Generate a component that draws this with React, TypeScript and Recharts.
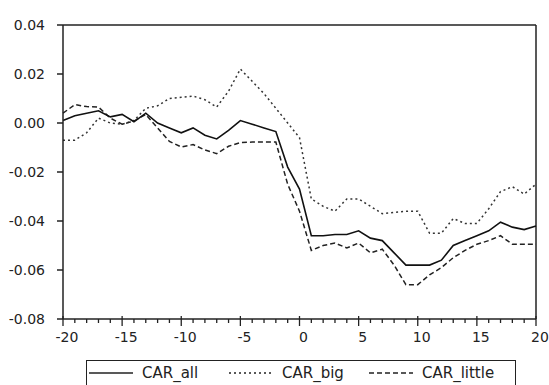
import { LineChart, Line, XAxis, YAxis, ReferenceLine } from 'recharts';

const DAYS = [
  -20, -19, -18, -17, -16, -15, -14, -13, -12, -11, -10, -9, -8, -7, -6, -5, -4, -3, -2, -1,
  0, 1, 2, 3, 4, 5, 6, 7, 8, 9, 10, 11, 12, 13, 14, 15, 16, 17, 18, 19, 20,
];

const CAR_ALL = [
  0.001, 0.003, 0.004, 0.005, 0.0025, 0.0035, 0.0005, 0.004, 0.0, -0.002, -0.004, -0.002, -0.005,
  -0.0065, -0.003, 0.001, -0.0005, -0.002, -0.0035, -0.018, -0.027,
  -0.046, -0.046, -0.0455, -0.0455, -0.044, -0.047, -0.048, -0.053, -0.058, -0.058, -0.058, -0.056,
  -0.05, -0.048, -0.046, -0.044, -0.0405, -0.0425, -0.0435, -0.042,
];

const CAR_BIG = [
  -0.007, -0.007, -0.004, 0.002, 0.0, -0.0005, 0.001, 0.006, 0.007, 0.01, 0.0105, 0.011, 0.0095,
  0.0065, 0.013, 0.022, 0.017, 0.012, 0.006, 0.0, -0.006,
  -0.031, -0.034, -0.036, -0.031, -0.031, -0.034, -0.037, -0.0365, -0.036, -0.036, -0.045, -0.045,
  -0.039, -0.041, -0.041, -0.035, -0.028, -0.026, -0.029, -0.025,
];

const CAR_LITTLE = [
  0.004, 0.0075, 0.0067, 0.0065, 0.002, -0.0005, 0.0008, 0.0035, -0.002, -0.0075, -0.0098, -0.0088,
  -0.011, -0.0125, -0.0095, -0.008, -0.0078, -0.0078, -0.0078, -0.025, -0.036,
  -0.052, -0.05, -0.049, -0.051, -0.049, -0.053, -0.0515, -0.058, -0.066, -0.066, -0.062, -0.059,
  -0.055, -0.052, -0.0495, -0.048, -0.046, -0.0495, -0.0495, -0.0495,
];

const Y_TICKS = [0.04, 0.02, 0.0, -0.02, -0.04, -0.06, -0.08];
const X_LABELS = [-20, -15, -10, -5, 0, 5, 10, 15, 20];

const FONT = '"DejaVu Sans", sans-serif';
const INK = '#222';

const data = DAYS.map((day, i) => ({
  day,
  CAR_all: CAR_ALL[i],
  CAR_big: CAR_BIG[i],
  CAR_little: CAR_LITTLE[i],
}));

// x axis: short tick every day, longer ticks + labels every 5 days
function DayTick(props: any) {
  const { x, y, payload } = props;
  const v = payload.value as number;
  const major = X_LABELS.includes(v);
  return (
    <g>
      <line x1={x} x2={x} y1={major ? y - 3 : y} y2={major ? y + 7 : y + 4} stroke={INK} strokeWidth={1.3} />
      {major && (
        <text x={x + 4} y={y + 23} textAnchor="middle" fontSize={14} fontFamily={FONT} fill={INK}>
          {v}
        </text>
      )}
    </g>
  );
}

function LegendSample({ dash }: { dash?: string }) {
  return (
    <svg width={44} height={10} style={{ display: 'block' }}>
      <line x1={0} x2={44} y1={5} y2={5} stroke={INK} strokeWidth={1.5} strokeDasharray={dash} />
    </svg>
  );
}

const legendItems = [
  { name: 'CAR_all', dash: undefined, left: 2 },
  { name: 'CAR_big', dash: '2 3', left: 142 },
  { name: 'CAR_little', dash: '5 3', left: 282 },
];

export default function App() {
  return (
    <div style={{ position: 'absolute', left: 0, top: 0, width: 549, height: 385, background: '#fff' }}>
      <LineChart width={549} height={385} data={data} margin={{ top: 25, right: 13, left: 0, bottom: 36 }}>
        <XAxis
          dataKey="day"
          type="number"
          domain={[-20, 20]}
          ticks={DAYS}
          interval={0}
          tickSize={0}
          tickMargin={0}
          height={30}
          tick={<DayTick />}
          stroke={INK}
          strokeWidth={1.5}
        />
        <YAxis
          type="number"
          domain={[-0.08, 0.04]}
          ticks={Y_TICKS}
          interval={0}
          width={63}
          tickSize={6}
          tickMargin={12}
          tickFormatter={(v: number) => v.toFixed(2)}
          tick={{ fontSize: 14, fontFamily: FONT, fill: INK }}
          stroke={INK}
          strokeWidth={1.5}
        />
        <ReferenceLine y={0.04} stroke={INK} strokeWidth={1.5} />
        <ReferenceLine x={20} stroke={INK} strokeWidth={1.5} />
        <Line type="linear" dataKey="CAR_big" stroke="#333" strokeWidth={1.5} strokeDasharray="2 3" dot={false} isAnimationActive={false} />
        <Line type="linear" dataKey="CAR_little" stroke={INK} strokeWidth={1.5} strokeDasharray="5 3" dot={false} isAnimationActive={false} />
        <Line type="linear" dataKey="CAR_all" stroke="#111" strokeWidth={1.6} dot={false} isAnimationActive={false} />
      </LineChart>
      <div
        style={{
          position: 'absolute',
          left: 86,
          top: 360,
          width: 430,
          height: 27,
          border: `1.5px solid ${INK}`,
          boxSizing: 'border-box',
          fontFamily: FONT,
          fontSize: 15,
          color: INK,
        }}
      >
        {legendItems.map((it) => (
          <div
            key={it.name}
            style={{ position: 'absolute', left: it.left, top: 3, display: 'flex', alignItems: 'center', gap: 9 }}
          >
            <LegendSample dash={it.dash} />
            <span style={{ lineHeight: '18px' }}>{it.name}</span>
          </div>
        ))}
      </div>
    </div>
  );
}
